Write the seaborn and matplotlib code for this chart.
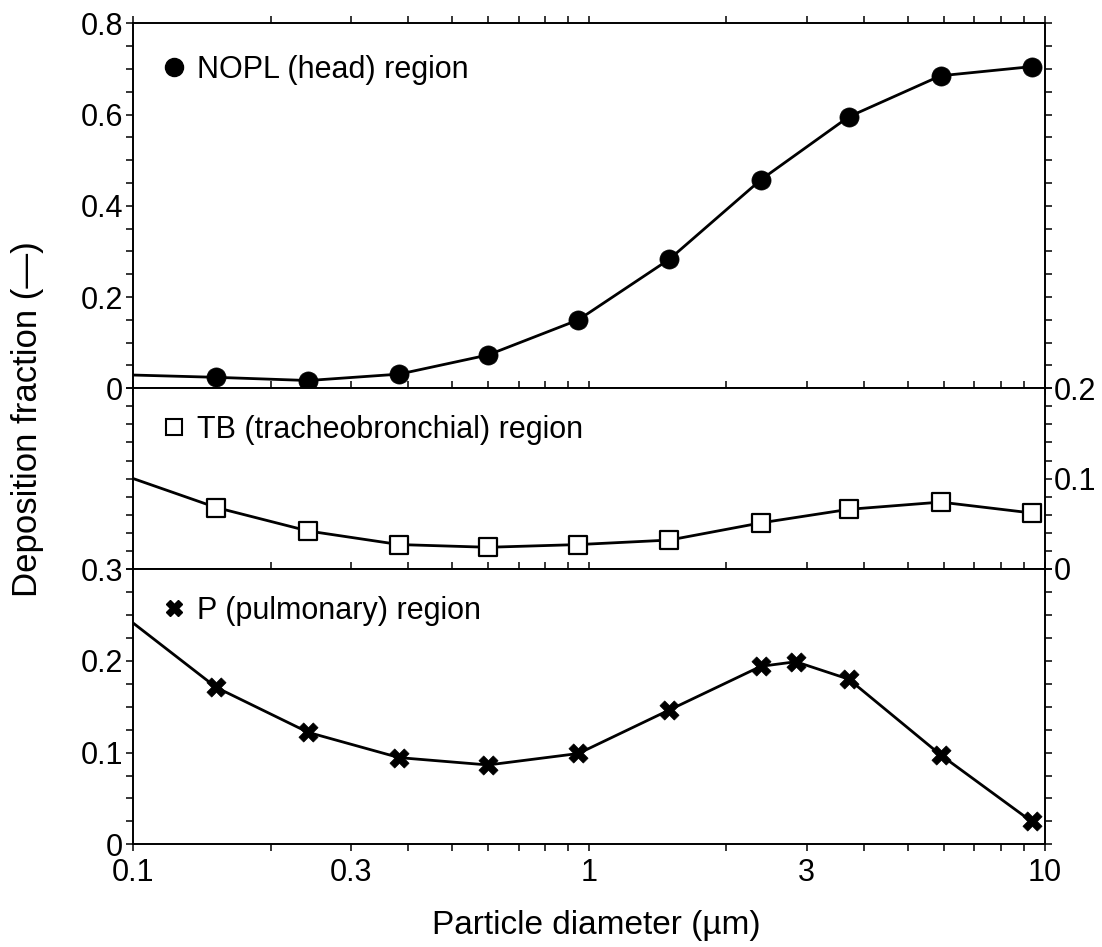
import numpy as np
import pandas as pd
import matplotlib
matplotlib.use("Agg")
import matplotlib.pyplot as plt
import seaborn as sns
from matplotlib.ticker import FixedLocator, FixedFormatter, MultipleLocator, LogLocator, NullFormatter, FuncFormatter
from matplotlib.lines import Line2D

# ---------------- data ----------------
diameter = [0.152, 0.242, 0.383, 0.600, 0.947, 1.50, 2.38, 3.71, 5.90, 9.34]
nopl = [0.024, 0.017, 0.031, 0.073, 0.150, 0.283, 0.457, 0.595, 0.685, 0.705]
tb = [0.068, 0.042, 0.027, 0.024, 0.027, 0.032, 0.051, 0.066, 0.074, 0.062]
p_diameter = [0.152, 0.242, 0.383, 0.600, 0.947, 1.50, 2.38, 2.84, 3.71, 5.90, 9.34]
pulm = [0.171, 0.122, 0.0945, 0.0865, 0.099, 0.1465, 0.194, 0.199, 0.180, 0.0975, 0.025]

# value of each curve at the left edge of the axis (0.1 um)
start_d = 0.1
nopl_start = 0.029
tb_start = 0.100
pulm_start = 0.241

x_tick_vals = [0.1, 0.3, 1, 3, 10]
x_tick_labels = ["0.1", "0.3", "1", "3", "10"]

labels = ["NOPL (head) region", "TB (tracheobronchial) region", "P (pulmonary) region"]

# ---------------- style ----------------
sns.set_style("ticks")
plt.rcParams["font.family"] = ["Liberation Sans", "DejaVu Sans"]
plt.rcParams["axes.linewidth"] = 1.4
plt.rcParams["text.color"] = "black"
plt.rcParams["axes.labelcolor"] = "black"
plt.rcParams["xtick.color"] = "black"
plt.rcParams["ytick.color"] = "black"
FS = 22

fig = plt.figure(figsize=(11.02, 9.47), dpi=100)
L, W = 0.121, 0.8273
ax_top = fig.add_axes([L, 0.5900, W, 0.3854])
ax_mid = fig.add_axes([L, 0.3992, W, 0.1908])
ax_bot = fig.add_axes([L, 0.1084, W, 0.2907])

def fmt(v, pos):
    return "{:g}".format(round(v, 3))

def common(ax):
    ax.set_xscale("log")
    ax.set_xlim(0.1, 10)
    ax.xaxis.set_major_locator(FixedLocator(x_tick_vals))
    ax.xaxis.set_minor_locator(LogLocator(base=10, subs=np.arange(2, 10)))
    ax.xaxis.set_minor_formatter(NullFormatter())
    ax.tick_params(which="both", direction="out", top=True, right=True,
                   length=4.8, width=1.1, colors="black", labelsize=FS, pad=2.5)
    for s in ax.spines.values():
        s.set_color("black")
    ax.set_xlabel("")
    ax.set_ylabel("")

# ---- top: NOPL ----
sns.lineplot(x=[start_d] + diameter, y=[nopl_start] + nopl, ax=ax_top,
             color="black", linewidth=2.0, estimator=None, sort=True)
sns.scatterplot(x=diameter, y=nopl, ax=ax_top, marker="o", s=190,
                color="black", edgecolor="black", linewidth=0.5, zorder=3)
common(ax_top)
ax_top.set_ylim(0, 0.8)
ax_top.yaxis.set_major_locator(MultipleLocator(0.2))
ax_top.yaxis.set_minor_locator(MultipleLocator(0.05))
ax_top.yaxis.set_major_formatter(FuncFormatter(fmt))
ax_top.tick_params(labelbottom=False)

# ---- middle: TB ----
sns.lineplot(x=[start_d] + diameter, y=[tb_start] + tb, ax=ax_mid,
             color="black", linewidth=2.0, estimator=None, sort=True)
sns.scatterplot(x=diameter, y=tb, ax=ax_mid, marker="s", s=150,
                facecolor="white", edgecolor="black", linewidth=1.6, zorder=3)
common(ax_mid)
ax_mid.set_ylim(0, 0.2)
ax_mid.yaxis.set_major_locator(MultipleLocator(0.1))
ax_mid.yaxis.set_minor_locator(MultipleLocator(0.02))
ax_mid.yaxis.set_major_formatter(FuncFormatter(fmt))
ax_mid.tick_params(labelbottom=False, labelleft=False, labelright=True)
ax_mid.tick_params(axis="y", which="both", pad=1.5)

# ---- bottom: P ----
sns.lineplot(x=[start_d] + p_diameter, y=[pulm_start] + pulm, ax=ax_bot,
             color="black", linewidth=2.0, estimator=None, sort=True)
sns.scatterplot(x=p_diameter, y=pulm, ax=ax_bot, marker="X", s=190,
                color="black", edgecolor="black", linewidth=0.5, zorder=3)
common(ax_bot)
ax_bot.set_ylim(0, 0.3)
ax_bot.yaxis.set_major_locator(MultipleLocator(0.1))
ax_bot.yaxis.set_minor_locator(MultipleLocator(0.025))
ax_bot.yaxis.set_major_formatter(FuncFormatter(fmt))
ax_bot.xaxis.set_major_formatter(FixedFormatter(x_tick_labels))
ax_bot.tick_params(axis="x", which="both", pad=5)

# ---- in-panel legends ----
handles = [
    Line2D([], [], marker="o", ls="none", color="black", markersize=13),
    Line2D([], [], marker="s", ls="none", markerfacecolor="white",
           markeredgecolor="black", markeredgewidth=1.5, markersize=11),
    Line2D([], [], marker="X", ls="none", color="black", markersize=12),
]
anchors = [(ax_top, 0.872), (ax_mid, 0.769), (ax_bot, 0.847)]
for (ax, yy), h, lab in zip(anchors, handles, labels):
    leg = ax.legend(handles=[h], labels=[lab], loc="center left",
                    bbox_to_anchor=(0.028, yy), frameon=False, fontsize=FS,
                    handlelength=1.0, handletextpad=0.25, borderpad=0,
                    borderaxespad=0, labelcolor="black")

fig.text(0.025, 0.557, "Deposition fraction (\u2014)", rotation=90,
         ha="center", va="center", fontsize=25, color="black")
fig.text(0.541, 0.023, "Particle diameter (\u00b5m)", ha="center",
         va="center", fontsize=24, color="black")

fig.savefig("out.png", dpi=100)
